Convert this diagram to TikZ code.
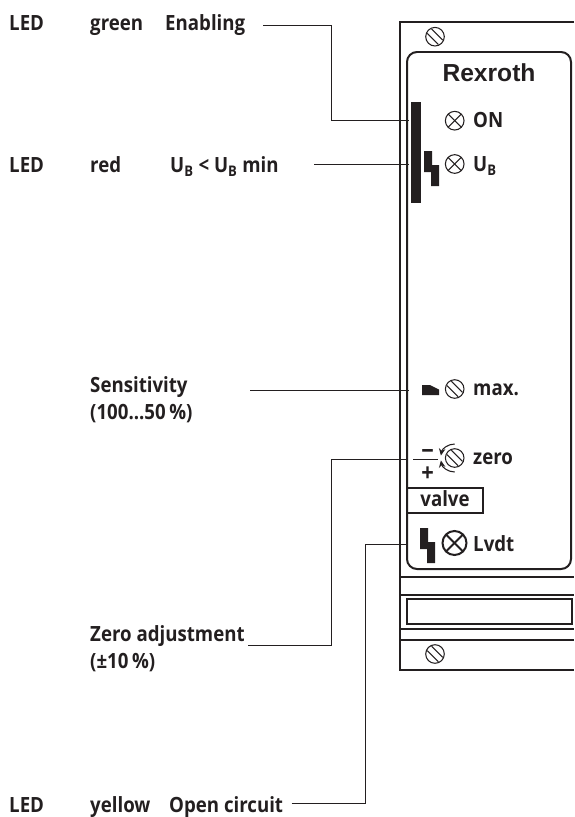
\documentclass[tikz,border=0pt]{standalone}
\usepackage{fontspec}
\setmainfont{Open Sans}[FakeStretch=0.89]
\newfontfamily\brandfont{Liberation Sans}
\usetikzlibrary{arrows.meta}
\definecolor{ink}{HTML}{231F20}
\tikzset{
    lbl/.style={anchor=west, inner sep=0pt, text height=13pt, text depth=4.5pt, text=ink, font=\fontsize{17.9}{22}\selectfont\bfseries},
    sign/.style={anchor=center, inner sep=0pt, text height=8.5pt, text depth=0pt, text=ink, font=\fontsize{21}{24}\selectfont\bfseries},
    frame/.style={draw=ink, line width=1.7pt},
    lead/.style={draw=ink, line width=0.9pt},
    turn/.style={lead, -{Stealth[length=6, width=5.5]}},
    lamp/.style={circle, draw=ink, line width=0.9pt, minimum size=0.56cm, inner sep=0pt},
    bolt/.pic={\fill[ink] (0,0) -- (8,0) -- (8,14) -- (15,14) -- (15,35) -- (7,35) -- (7,21) -- (0,21) -- cycle;},
    slotscrew/.pic={
        \draw[ink, line width=0.9pt] (0,0) circle (9.3);
        \draw[ink, line width=0.9pt] (-7.8,-3.4) -- (3.4,7.8);
        \draw[ink, line width=0.9pt] (-3.4,-7.8) -- (7.8,3.4);
    },
    crossed/.pic={
        \draw[ink, line width=#1] (-6.7,-6.7) -- (6.7,6.7);
        \draw[ink, line width=#1] (-6.7,6.7) -- (6.7,-6.7);
    },
}
\begin{document}
\begin{tikzpicture}[x=0.03cm, y=-0.03cm]
        \useasboundingbox (0,0) rectangle (574,817);

        % Housing
        \draw[frame] (574,22) -- (400,22) -- (400,670) -- (574,670);
        \draw[frame, rounded corners=0.3cm] (480,52) -- (407,52) -- (407,569) -- (571,569) -- (571,52) -- cycle;
        \draw[frame] (400,577) -- (574,577);
        \draw[frame] (400,595) -- (574,595);
        \draw[frame] (407,599) rectangle (572,624);
        \draw[frame] (400,629) -- (574,629);
        \draw[frame] (400,640) -- (574,640);
        \pic at (435,36.7) {slotscrew};
        \pic at (435,654) {slotscrew};

        % Panel marks
        \fill[ink] (411,102) rectangle (421,203);
        \pic at (424,151) {bolt};
        \pic at (420,528) {bolt};
        \fill[ink] (422,385) -- (430,385) -- (439,389.5) -- (439,395) -- (422,395) -- cycle;

        % Nodes
        \node[lbl] (led1) at (9,25.5) {LED};
        \node[lbl] (green) at (90,25.5) {green};
        \node[lbl] (enabling) at (165,25.5) {Enabling};
        \node[lbl] (led2) at (9,168) {LED};
        \node[lbl] (red) at (90,168) {red};
        \node[lbl] (ublow) at (170,168) {U\textsubscript{B} < U\textsubscript{B} min};
        \node[lbl] (sens) at (90,388) {Sensitivity};
        \node[lbl] (sensrange) at (90,415) {(100...50\,\%)};
        \node[lbl] (zeroadj) at (90,637) {Zero adjustment};
        \node[lbl] (zerorange) at (90,664) {(\textpm10\,\%)};
        \node[lbl] (led3) at (9,808) {LED};
        \node[lbl] (yellow) at (90,808) {yellow};
        \node[lbl] (opencct) at (169,808) {Open circuit};

        \node[anchor=base, inner sep=0pt, text=ink, font=\fontsize{21}{24}\selectfont\brandfont\bfseries] (brand) at (489,82) {Rexroth};
        \node[lamp] (on) at (454.7,120.7) {};
        \node[lamp] (ub) at (454.7,164) {};
        \node[lamp, line width=1.7pt, minimum size=0.72cm] (lvdt) at (454.5,543) {};
        \pic at (on) {crossed=0.9pt};
        \pic at (ub) {crossed=0.9pt};
        \pic[scale=1.27] at (lvdt) {crossed=1.7pt};
        \coordinate (maxscrew) at (454.7,389);
        \coordinate (zeroscrew) at (454.7,458);
        \pic at (maxscrew) {slotscrew};
        \pic at (zeroscrew) {slotscrew};
        \node[lbl] (ontext) at (473,123) {ON};
        \node[lbl] (ubtext) at (473,167) {U\textsubscript{B}};
        \node[lbl] (maxtext) at (473,391) {max.};
        \node[lbl] (zerotext) at (473,460) {zero};
        \node[lbl] (lvdttext) at (473,547) {Lvdt};
        \node[lbl, anchor=center, draw=ink, line width=1.7pt, minimum width=2.28cm, minimum height=0.74cm, text height=12pt, text depth=1pt] (valve) at (445,500.5) {valve};
        \node[sign] (minus) at (427.5,454.5) {\textminus};
        \node[sign] (plus) at (427.5,476.5) {+};

        % Lines
        \coordinate (onend) at (409,120.5);
        \coordinate (enablingbend) at (331.5,120.5);
        \coordinate (ubend) at (409,164.5);
        \coordinate (sensstart) at (250,390.5);
        \coordinate (sensend) at (409,390.5);
        \coordinate (zeroend) at (408,459.5);
        \coordinate (zerobend) at (331.5,645.5);
        \coordinate (scaleleft) at (413,459.5);
        \coordinate (scaleright) at (438,459.5);
        \coordinate (lvdtend) at (408,544.5);
        \coordinate (lvdtbend) at (365.5,803.5);
        \draw[lead] ([xshift=15]enabling.east) -| (enablingbend) -- (onend);
        \draw[lead] ([xshift=30]ublow.east |- ubend) -- (ubend);
        \draw[lead] (sensstart) -- (sensend);
        \draw[lead] ([xshift=3]zeroadj.east |- zerobend) -- (zerobend) |- (zeroend);
        \draw[lead] ([xshift=7]opencct.east |- lvdtbend) -- (lvdtbend) |- (lvdtend);
        \draw[lead] (scaleleft) -- (scaleright);
        \draw[turn] (zeroscrew) ++(-90:14) arc (-90:-170:14);
        \draw[turn] (zeroscrew) ++(90:14) arc (90:170:14);
    \end{tikzpicture}
\end{document}
